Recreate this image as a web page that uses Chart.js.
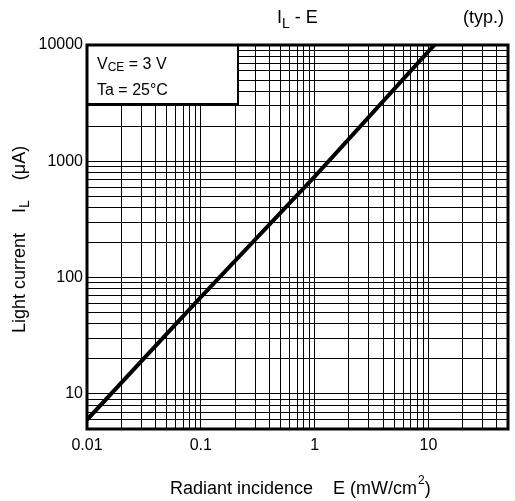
<!DOCTYPE html>
<html>
<head>
<meta charset="utf-8">
<script src="https://cdn.jsdelivr.net/npm/chart.js@4"></script>
<style>
  body { margin: 0; background: #fff; }
  #wrap { width: 515px; height: 501px; position: relative; }
</style>
</head>
<body>
<div id="wrap"><canvas id="ilChart"></canvas></div>
<script>
// Light current vs radiant incidence
const irradiance = [0.01, 0.1, 1, 10, 11.3];          // mW/cm2
const lightCurrent = [6, 68, 740, 8800, 10000];       // uA

// decades that get a number, and the 1..9 steps that get a grid line
const xDecades = [0.01, 0.1, 1, 10];
const xTickLabels = ['0.01', '0.1', '1', '10'];
const yDecades = [1, 10, 100, 1000];
const yTickLabels = ['10', '100', '1000', '10000'];
const steps = [1, 2, 3, 4, 5, 6, 7, 8, 9];

const X_MIN = 0.01, X_MAX = 50;
const Y_MIN = 5, Y_MAX = 10000;

const FONT = '"Liberation Sans", Arial, sans-serif';

function gridValues(decades, min, max) {
    let vals = [];
    decades.concat([decades[decades.length - 1] * 10]).forEach(d => {
        steps.forEach(s => {
            const v = +(d * s).toPrecision(6);
            if (v >= min - 1e-9 && v <= max + 1e-9) vals.push(v);
        });
    });
    return vals;
}

function labelFor(value, values, labels) {
    for (let i = 0; i < values.length; i++) {
        if (Math.abs(value / values[i] - 1) < 1e-6) return labels[i];
    }
    return '';
}

// frame, condition box and all titles
const decorPlugin = {
    id: 'decor',
    afterDatasetsDraw(chart) {
        const ctx = chart.ctx;
        const a = chart.chartArea;
        ctx.save();

        // condition box in the top-left corner
        ctx.fillStyle = '#fff';
        ctx.fillRect(a.left, a.top, 151, 59);
        ctx.strokeStyle = '#000';
        ctx.lineWidth = 2;
        ctx.strokeRect(a.left, a.top, 151, 59);

        ctx.fillStyle = '#000';
        ctx.textBaseline = 'alphabetic';
        ctx.textAlign = 'left';
        ctx.font = '16px ' + FONT;
        ctx.fillText('V', 97, 69);
        let w = ctx.measureText('V').width;
        ctx.font = '12px ' + FONT;
        ctx.fillText('CE', 97 + w, 71);
        let w2 = ctx.measureText('CE').width;
        ctx.font = '16px ' + FONT;
        ctx.fillText(' = 3 V', 97 + w + w2, 69);
        ctx.fillText('Ta = 25°C', 97, 95);

        // outer frame
        ctx.lineWidth = 3;
        ctx.strokeRect(a.left, a.top, a.right - a.left, a.bottom - a.top);

        // chart title
        ctx.font = '18px ' + FONT;
        ctx.fillText('I', 277, 23);
        w = ctx.measureText('I').width;
        ctx.font = '14px ' + FONT;
        ctx.fillText('L', 277 + w, 28);
        w2 = ctx.measureText('L').width;
        ctx.font = '18px ' + FONT;
        ctx.fillText(' - E', 277 + w + w2, 23);
        ctx.textAlign = 'right';
        ctx.fillText('(typ.)', 504, 23);
        ctx.textAlign = 'left';

        // x axis title
        ctx.font = '18px ' + FONT;
        let x = 170;
        const xt1 = 'Radiant incidence    E (mW/cm';
        ctx.fillText(xt1, x, 494);
        x += ctx.measureText(xt1).width;
        ctx.font = '12px ' + FONT;
        ctx.fillText('2', x + 1, 484);
        x += ctx.measureText('2').width + 1;
        ctx.font = '18px ' + FONT;
        ctx.fillText(')', x, 494);

        // y axis title, rotated
        ctx.translate(25, 333);
        ctx.rotate(-Math.PI / 2);
        ctx.font = '18px ' + FONT;
        const yt1 = 'Light current    I';
        ctx.fillText(yt1, 0, 0);
        let y = ctx.measureText(yt1).width;
        ctx.font = '14px ' + FONT;
        ctx.fillText('L', y, 4);
        y += ctx.measureText('L').width;
        ctx.font = '18px ' + FONT;
        ctx.fillText('    (μA)', y, 0);

        ctx.restore();
    }
};

const xGrid = gridValues(xDecades, X_MIN, X_MAX);
const yGrid = gridValues(yDecades, Y_MIN, Y_MAX);

new Chart(document.getElementById('ilChart'), {
    type: 'line',
    data: {
        datasets: [{
            data: irradiance.map((e, i) => ({ x: e, y: lightCurrent[i] })),
            borderColor: '#000',
            borderWidth: 4,
            pointRadius: 0,
            tension: 0,
            fill: false,
        }]
    },
    options: {
        responsive: true,
        maintainAspectRatio: false,
        animation: false,
        layout: {
            padding: { top: 45, right: 2, left: 0, bottom: 0 }
        },
        plugins: {
            legend: { display: false },
            title: { display: false },
            tooltip: { enabled: false },
        },
        scales: {
            x: {
                type: 'logarithmic',
                min: X_MIN,
                max: X_MAX,
                afterBuildTicks: (scale) => {
                    scale.ticks = xGrid.map(v => ({ value: v }));
                },
                afterFit: (scale) => { scale.height = 72; },
                grid: { color: '#000', lineWidth: 1, drawTicks: false },
                border: { display: false },
                ticks: {
                    autoSkip: false,
                    maxRotation: 0,
                    padding: 7,
                    color: '#000',
                    font: { family: FONT, size: 16 },
                    callback: (value) => labelFor(value, xDecades, xTickLabels),
                },
            },
            y: {
                type: 'logarithmic',
                min: Y_MIN,
                max: Y_MAX,
                afterBuildTicks: (scale) => {
                    scale.ticks = yGrid.map(v => ({ value: v }));
                },
                afterFit: (scale) => { scale.width = 87; },
                grid: { color: '#000', lineWidth: 1, drawTicks: false },
                border: { display: false },
                ticks: {
                    autoSkip: false,
                    padding: 4,
                    color: '#000',
                    font: { family: FONT, size: 16 },
                    callback: (value) => labelFor(value, yDecades.map(d => d * 10), yTickLabels),
                },
            },
        },
    },
    plugins: [decorPlugin],
});
</script>
</body>
</html>
